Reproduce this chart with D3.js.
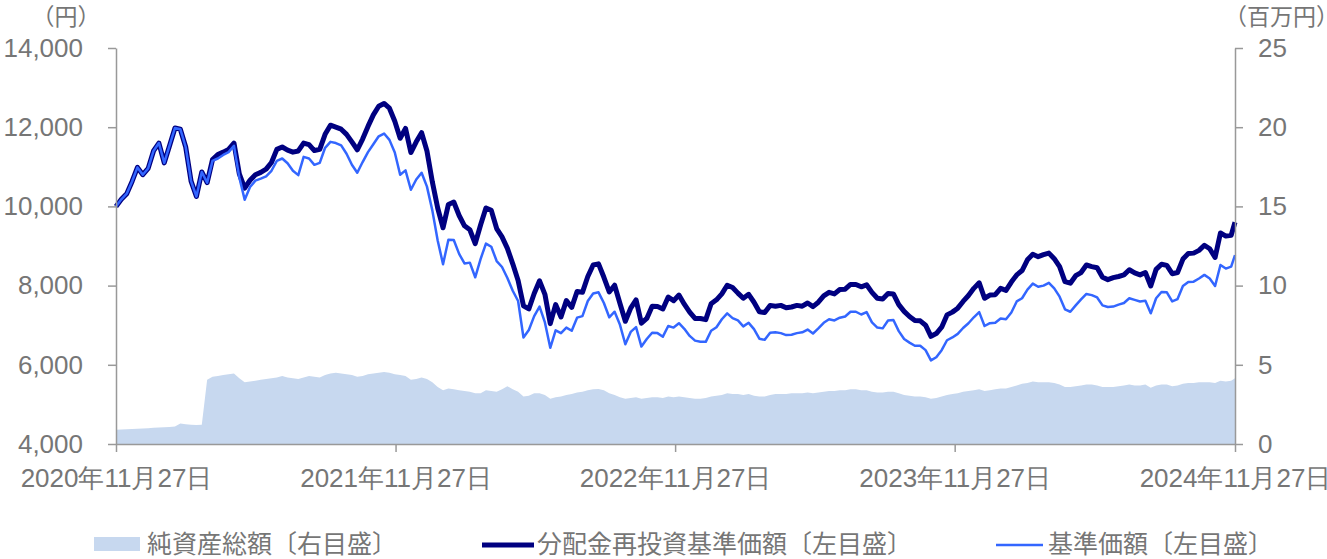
<!doctype html>
<html lang="ja">
<head>
<meta charset="UTF-8">
<title>基準価額の推移</title>
<style>
  body { margin: 0; background: #fff; }
  svg { display: block; font-family: "Liberation Sans", Arial, "Noto Sans CJK JP", sans-serif; }
  .axis path, .axis line { stroke: #999; stroke-width: 1.5; }
  .axis text { fill: #767676; font-size: 26px; }
  .unit, .legend text { fill: #767676; }
</style>
</head>
<body>
<svg width="1327" height="559"></svg>
<script src="https://cdn.jsdelivr.net/npm/d3@7"></script>
<script>
// weekly values from 2020-11-27, last value on 2024-11-27
var startDate = new Date(2020, 10, 27),
    endDate = new Date(2024, 10, 27);

// 分配金再投資基準価額 (円)
var reinvested = [
  10000,10180,10320,10630,10985,10800,10960,11400,11600,11100,
  11540,11980,11950,11500,10640,10250,10870,10600,11180,11310,
  11370,11440,11600,10820,10460,10660,10800,10860,10940,11110,
  11440,11500,11420,11370,11400,11600,11560,11410,11440,11820,
  12050,12000,11950,11820,11630,11430,11700,12020,12310,12530,
  12600,12480,12150,11720,11970,11360,11630,11860,11400,10620,
  9960,9460,10050,10110,9770,9510,9410,9060,9530,9960,
  9900,9440,9230,8940,8550,8130,7490,7410,7800,8120,
  7780,7040,7520,7210,7620,7450,7850,7830,8230,8520,
  8550,8210,7840,8010,7550,7100,7430,7640,7050,7170,
  7480,7470,7410,7710,7620,7760,7530,7330,7170,7170,
  7140,7540,7640,7790,8010,7950,7810,7680,7780,7580,
  7340,7320,7500,7480,7500,7440,7460,7500,7480,7560,
  7470,7580,7740,7830,7790,7900,7910,8030,8030,7970,
  8020,7830,7680,7660,7800,7790,7520,7350,7220,7120,
  7110,7000,6720,6790,6950,7260,7330,7430,7600,7750,
  7930,8070,7680,7760,7770,7930,7880,8090,8270,8380,
  8650,8790,8730,8780,8820,8680,8480,8100,8060,8250,
  8330,8520,8480,8450,8210,8150,8200,8230,8270,8400,
  8320,8270,8330,7990,8410,8540,8510,8300,8330,8670,
  8810,8820,8890,9020,8930,8710,9330,9250,9270,9600
];

// 基準価額 (円)
var nav = [
  10000,10180,10320,10630,10985,10800,10960,11400,11600,11100,
  11540,11980,11950,11500,10640,10250,10870,10600,11150,11210,
  11300,11370,11530,10730,10170,10490,10650,10700,10760,10900,
  11150,11210,11090,10900,10790,11250,11210,11050,11100,11480,
  11630,11600,11540,11330,11050,10850,11120,11370,11570,11770,
  11840,11680,11360,10800,10910,10420,10680,10850,10500,9900,
  9140,8540,9160,9150,8800,8560,8580,8210,8670,9060,
  8980,8620,8470,8190,7870,7610,6690,6880,7230,7470,
  7070,6430,6870,6800,6940,6860,7190,7230,7610,7800,
  7830,7560,7200,7340,7010,6520,6830,6950,6460,6650,
  6810,6800,6710,6980,6940,7050,6910,6730,6610,6580,
  6580,6860,6950,7150,7300,7180,7120,6970,7060,6900,
  6660,6630,6810,6820,6800,6750,6760,6800,6820,6890,
  6790,6920,7060,7150,7120,7190,7220,7340,7340,7270,
  7330,7070,6940,6920,7120,7130,6850,6650,6560,6480,
  6480,6370,6110,6190,6370,6620,6690,6780,6930,7050,
  7200,7330,6980,7050,7060,7170,7150,7320,7600,7680,
  7900,8050,7970,8000,8070,7930,7720,7400,7340,7500,
  7650,7790,7760,7700,7500,7460,7470,7520,7560,7680,
  7640,7600,7620,7300,7680,7840,7830,7600,7660,7990,
  8090,8100,8180,8270,8180,7990,8520,8430,8480,8770
];

// 純資産総額 (百万円)
var netAssets = [
  0.9,0.92,0.93,0.95,0.97,0.98,1.0,1.02,1.04,1.06,
  1.08,1.1,1.3,1.25,1.22,1.2,1.22,4.05,4.25,4.3,
  4.35,4.4,4.45,4.15,3.9,3.95,4.0,4.05,4.1,4.15,
  4.2,4.3,4.2,4.15,4.1,4.2,4.3,4.25,4.2,4.35,
  4.45,4.5,4.45,4.4,4.35,4.25,4.3,4.4,4.45,4.5,
  4.55,4.5,4.4,4.35,4.3,4.05,4.1,4.2,4.1,3.9,
  3.6,3.4,3.5,3.45,3.4,3.35,3.3,3.2,3.2,3.4,
  3.35,3.3,3.45,3.65,3.45,3.3,3.0,3.05,3.2,3.2,
  3.1,2.85,2.95,3.0,3.1,3.15,3.25,3.3,3.4,3.45,
  3.47,3.4,3.2,3.1,2.95,2.85,2.9,2.95,2.85,2.9,
  2.95,2.95,2.9,3.0,2.95,3.0,2.95,2.9,2.85,2.85,
  2.9,3.0,3.05,3.1,3.2,3.15,3.15,3.1,3.15,3.05,
  3.0,3.0,3.1,3.15,3.15,3.15,3.2,3.2,3.2,3.25,
  3.2,3.25,3.3,3.35,3.35,3.4,3.4,3.45,3.45,3.4,
  3.4,3.3,3.25,3.25,3.3,3.3,3.2,3.1,3.05,3.0,
  3.0,2.95,2.85,2.9,3.0,3.1,3.15,3.2,3.3,3.35,
  3.4,3.45,3.35,3.4,3.45,3.5,3.5,3.6,3.7,3.8,
  3.85,3.95,3.9,3.9,3.9,3.85,3.75,3.6,3.6,3.65,
  3.7,3.75,3.75,3.7,3.6,3.6,3.6,3.65,3.7,3.75,
  3.7,3.7,3.75,3.55,3.7,3.75,3.75,3.65,3.7,3.8,
  3.85,3.85,3.9,3.9,3.9,3.85,4.0,3.95,4.0,4.15
];

var leftTicks = [4000, 6000, 8000, 10000, 12000, 14000];
var rightTicks = [0, 5, 10, 15, 20, 25];
var xTicks = [
  new Date(2020, 10, 27), new Date(2021, 10, 27), new Date(2022, 10, 27),
  new Date(2023, 10, 27), new Date(2024, 10, 27)
];
var legendLabels = ['純資産総額〔右目盛〕', '分配金再投資基準価額〔左目盛〕', '基準価額〔左目盛〕'];

var dates = reinvested.map(function(d, i) {
  return i < reinvested.length - 1 ? d3.timeDay.offset(startDate, 7 * i) : endDate;
});

var svg = d3.select('svg'),
    margin = { top: 48, right: 92, bottom: 115, left: 116 },
    width = svg.attr('width') - margin.left - margin.right,
    height = svg.attr('height') - margin.top - margin.bottom;

var x = d3.scaleTime().domain([startDate, endDate]).range([0, width]);
var yL = d3.scaleLinear().domain([4000, 14000]).range([height, 0]);
var yR = d3.scaleLinear().domain([0, 25]).range([height, 0]);

var g = svg.append('g')
    .attr('transform', 'translate(' + margin.left + ',' + margin.top + ')');

// net assets area (right axis)
g.append('path')
    .datum(netAssets)
    .attr('fill', '#c7d8ef')
    .attr('d', d3.area()
        .x(function(d, i) { return x(dates[i]); })
        .y0(height)
        .y1(function(d) { return yR(d); }));

var lineL = d3.line()
    .x(function(d, i) { return x(dates[i]); })
    .y(function(d) { return yL(d); });

g.append('path')
    .datum(reinvested)
    .attr('fill', 'none')
    .attr('stroke', '#000080')
    .attr('stroke-width', 5)
    .attr('stroke-linejoin', 'round')
    .attr('d', lineL);

g.append('path')
    .datum(nav)
    .attr('fill', 'none')
    .attr('stroke', '#3366ff')
    .attr('stroke-width', 2.5)
    .attr('stroke-linejoin', 'round')
    .attr('d', lineL);

// axes
g.append('g')
    .attr('class', 'axis')
    .call(d3.axisLeft(yL).tickValues(leftTicks).tickFormat(d3.format(',')).tickSize(8).tickSizeOuter(0).tickPadding(25));

g.append('g')
    .attr('class', 'axis')
    .attr('transform', 'translate(' + width + ',0)')
    .call(d3.axisRight(yR).tickValues(rightTicks).tickSize(8).tickSizeOuter(0).tickPadding(15));

g.append('g')
    .attr('class', 'axis')
    .attr('transform', 'translate(0,' + height + ')')
    .call(d3.axisBottom(x).tickValues(xTicks).tickFormat(d3.timeFormat('%Y年%m月%d日')).tickSize(8).tickSizeOuter(0).tickPadding(17));

svg.selectAll('.axis .domain').attr('stroke', '#999');

// unit labels
svg.append('text').attr('class', 'unit')
    .attr('x', 66).attr('y', 17).attr('dy', '0.35em')
    .attr('text-anchor', 'middle').attr('font-size', 23)
    .text('（円）');
svg.append('text').attr('class', 'unit')
    .attr('x', 1224).attr('y', 17).attr('dy', '0.35em')
    .attr('font-size', 23)
    .text('（百万円）');

// legend
var legend = svg.append('g').attr('class', 'legend').attr('font-size', 25);
legend.append('rect')
    .attr('x', 94).attr('y', 537).attr('width', 46).attr('height', 14)
    .attr('fill', '#c7d8ef');
legend.append('text').attr('x', 147).attr('y', 544).attr('dy', '0.35em').text(legendLabels[0]);

legend.append('line')
    .attr('x1', 482).attr('x2', 534).attr('y1', 545).attr('y2', 545)
    .attr('stroke', '#000080').attr('stroke-width', 5);
legend.append('text').attr('x', 537).attr('y', 544).attr('dy', '0.35em').text(legendLabels[1]);

legend.append('line')
    .attr('x1', 996).attr('x2', 1043).attr('y1', 545).attr('y2', 545)
    .attr('stroke', '#3366ff').attr('stroke-width', 2.5);
legend.append('text').attr('x', 1048).attr('y', 544).attr('dy', '0.35em').text(legendLabels[2]);
</script>
</body>
</html>
